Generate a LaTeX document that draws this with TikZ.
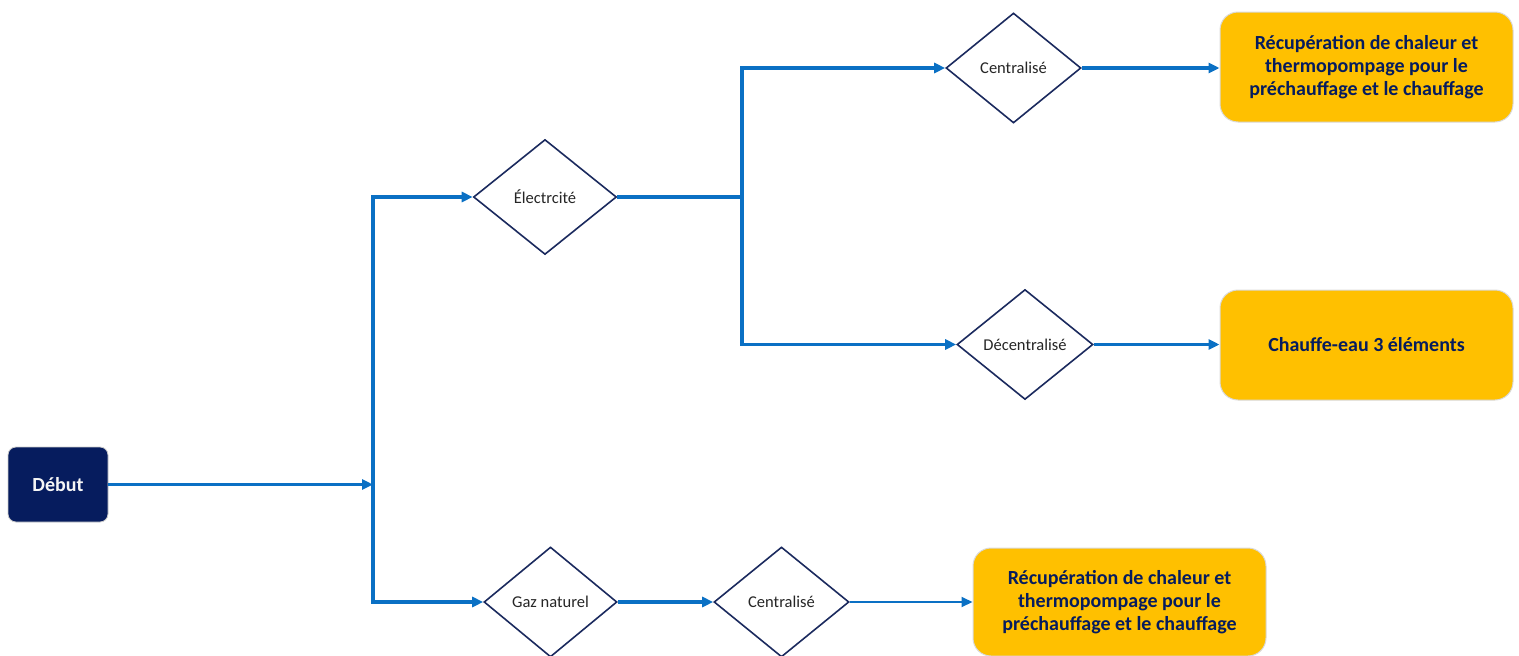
\documentclass[tikz,border=0pt]{standalone}
\usepackage{fontspec}
\setmainfont{Carlito}
\usetikzlibrary{shapes.geometric,arrows.meta,calc}
\definecolor{flowblue}{HTML}{0A70C4}
\definecolor{navy}{HTML}{061C5E}
\definecolor{dnavy}{HTML}{1B2A5E}
\definecolor{gold}{HTML}{FFC000}
\definecolor{goldedge}{HTML}{D9D9D9}
\begin{document}
\begin{tikzpicture}[x=1pt,y=-1pt,
  flow/.style={draw=flowblue,line width=3.5pt},
  arrow/.style={flow,-{Triangle[length=11pt,width=10pt]}},
  choice/.style={shape=diamond,draw=dnavy,line width=1.6pt,fill=white,inner sep=0pt,
    font=\fontsize{16.5}{19}\selectfont,text=black!85},
  result/.style={draw=goldedge,line width=1pt,fill=gold,rounded corners=18pt,
    minimum width=293pt,align=center,text=navy,
    font=\fontsize{20}{23}\selectfont\bfseries},
  startbox/.style={draw=gray!40,line width=0.8pt,fill=navy,rounded corners=8pt,
    minimum width=100pt,minimum height=75pt,text=white!92!gray,
    font=\fontsize{20}{23}\selectfont\bfseries}]
\useasboundingbox (0,0) rectangle (1519,656);
\node[startbox] (start) at (58,484.5) {Début};
\node[choice,minimum width=143pt,minimum height=115pt] (elec) at (545,197) {Électrcité};
\node[choice,minimum width=135pt,minimum height=110pt] (cent1) at (1013.5,68) {Centralisé};
\node[choice,minimum width=136pt,minimum height=110pt] (dec) at (1025,344.5) {Décentralisé};
\node[choice,minimum width=133pt,minimum height=110pt] (gaz) at (550.5,602) {Gaz naturel};
\node[choice,minimum width=135pt,minimum height=110pt] (cent2) at (781.5,602) {Centralisé};
\node[result,minimum height=110pt] (r1) at (1366.5,67) {Récupération de chaleur et\\thermopompage pour le\\préchauffage et le chauffage};
\node[result,minimum height=110pt] (r2) at (1366.5,345) {Chauffe-eau 3 éléments};
\node[result,minimum height=108pt] (r3) at (1119.5,602) {Récupération de chaleur et\\thermopompage pour le\\préchauffage et le chauffage};
\coordinate (j1) at (373,484.5);
\coordinate (j2) at (742,197);
\draw[arrow] (start.east) -- (j1);
\draw[arrow] (j1) |- (elec.west);
\draw[arrow] (j1) |- (gaz.west);
\draw[flow] (elec.east) -- (j2);
\draw[arrow] (j2) |- (cent1.west);
\draw[arrow] (j2) |- (dec.west);
\draw[arrow] (cent1.east) -- (r1.west |- cent1.east);
\draw[arrow] (dec.east) -- (r2.west |- dec.east);
\draw[arrow] (gaz.east) -- (cent2.west);
\draw[arrow,line width=2pt] (cent2.east) -- (r3.west |- cent2.east);
\end{tikzpicture}
\end{document}
